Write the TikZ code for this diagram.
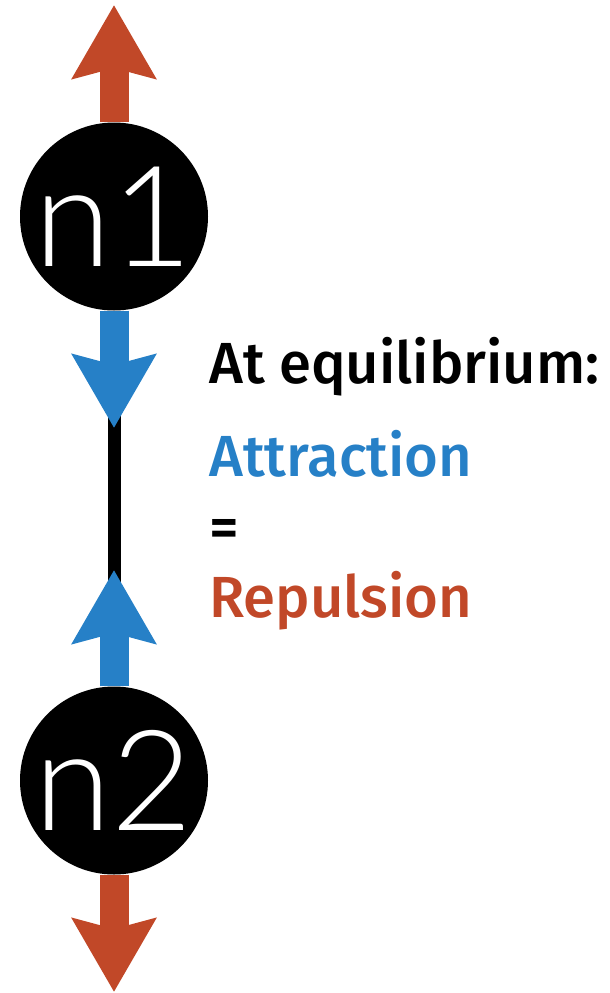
\documentclass[tikz,border=0pt]{standalone}
\usepackage{fontspec}
\setmainfont{Fira Sans Medium}
\newfontfamily\nodefont{Lato Light}
\usetikzlibrary{arrows.meta}
\definecolor{repred}{RGB}{193,72,40}
\definecolor{attblue}{RGB}{38,128,199}
\tikzset{
  atom/.style={circle, fill=black, minimum size=188pt, inner sep=0pt, text=white, font=\nodefont\fontsize{140}{140}\selectfont},
  force/.style={line width=29pt, -{Stealth[length=73pt, width=82pt, inset=10pt]}},
  repulsion/.style={force, draw=repred, fill=repred},
  attraction/.style={force, draw=attblue, fill=attblue},
  bond/.style={line width=13pt, draw=black},
  label/.style={anchor=base west, inner sep=0pt, font=\fontsize{58}{58}\selectfont}
}
\begin{document}
\begin{tikzpicture}[x=1pt, y=-1pt]
\useasboundingbox (0,0) rectangle (610,993);
\node[atom] (n1) at (114,216.5) {n1};
\node[atom] (n2) at (114,780.5) {n2};
\coordinate (top) at (114,5);
\coordinate (bot) at (114,992);
\coordinate (b1) at (114,390);
\coordinate (b2) at (114,600);
\coordinate (t1) at (114,428);
\coordinate (t2) at (114,570);
\draw[bond] (b1) -- (b2);
\draw[repulsion] (n1.north) -- (top);
\draw[repulsion] (n2.south) -- (bot);
\draw[attraction] (n1.south) -- (t1);
\draw[attraction] (n2.north) -- (t2);
\node[label] (eq) at (209,383) {At equilibrium:};
\node[label, text=attblue] (att) at (209,476) {Attraction};
\node[label] (equals) at (209,547) {=};
\node[label, text=repred] (rep) at (209,617) {Repulsion};
\end{tikzpicture}
\end{document}
